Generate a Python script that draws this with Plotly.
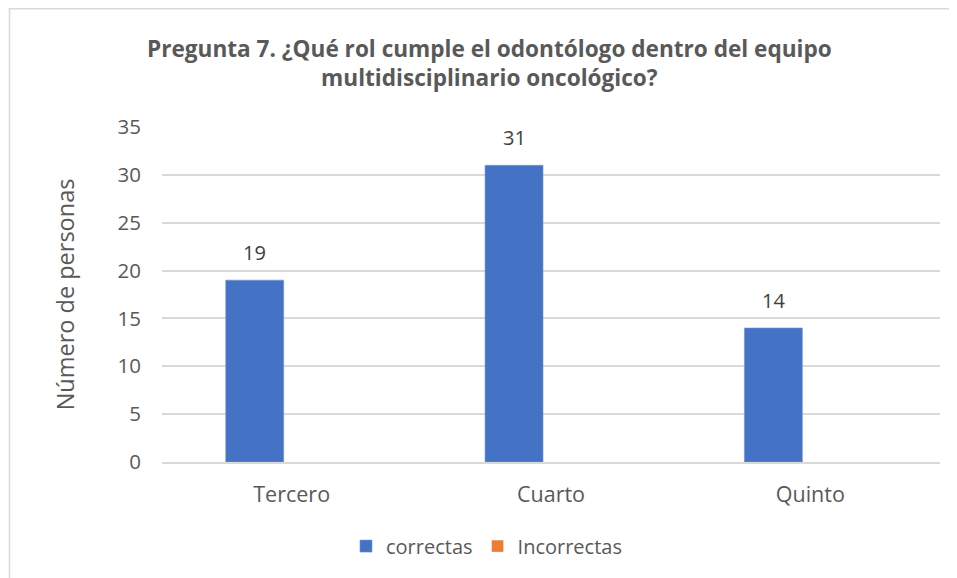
import plotly.graph_objects as go

# data
categories = ["Tercero", "Cuarto", "Quinto"]
correctas = [19, 31, 14]
incorrectas = [None, None, None]
y_ticks = [0, 5, 10, 15, 20, 25, 30, 35]

FONT = "Open Sans, sans-serif"
GREY = "#595959"

fig = go.Figure()
fig.add_trace(go.Bar(
    name="correctas", x=categories, y=correctas,
    marker=dict(color="#4472C4", line=dict(color="#6f93d6", width=0.6)),
))
fig.add_trace(go.Bar(
    name="Incorrectas", x=categories, y=incorrectas,
    marker=dict(color="#ED7D31"),
))

# data labels above the blue bars
for cat, val in zip(categories, correctas):
    fig.add_annotation(
        x=cat, y=val, text=str(val), showarrow=False,
        xshift=-37, yshift=12, yanchor="bottom",
        font=dict(family=FONT, size=20, color="#404040"),
    )

# chart frame (Excel-like border)
fig.add_shape(type="line", xref="paper", yref="paper",
              x0=-0.197, x1=1.1, y0=1.353, y1=1.353,
              line=dict(color="#d9d9d9", width=1.5))
fig.add_shape(type="line", xref="paper", yref="paper",
              x0=-0.196, x1=-0.196, y0=1.353, y1=-0.5,
              line=dict(color="#d9d9d9", width=1.5))

fig.update_layout(
    width=957, height=578,
    margin=dict(l=154, r=25, t=119, b=124),
    paper_bgcolor="white", plot_bgcolor="white",
    barmode="group", bargap=0.43, bargroupgap=0.216,
    title=dict(
        text="<b>Pregunta 7. ¿Qué rol cumple el odontólogo dentro del equipo<br>multidisciplinario oncológico?</b>",
        x=0.503, xanchor="center", y=0.916, yanchor="middle",
        font=dict(family=FONT, size=22.6, color=GREY),
    ),
    xaxis=dict(
        showgrid=False, showline=True, linecolor="#d9d9d9", linewidth=1.5,
        ticks="", ticklabelstandoff=12,
        tickfont=dict(family=FONT, size=21.5, color=GREY),
    ),
    yaxis=dict(
        range=[0, 35], tickvals=y_ticks, showgrid=True, gridcolor="#d9d9d9",
        gridwidth=1.5, zeroline=False, showline=False, ticks="", ticklen=0,
        ticklabelstandoff=20,
        tickfont=dict(family=FONT, size=20.5, color=GREY),
        title=dict(text="Número de personas", standoff=36,
                   font=dict(family=FONT, size=23.5, color=GREY)),
    ),
    legend=dict(
        orientation="h", xref="container", yref="container",
        x=0.50, xanchor="center", y=0.069, yanchor="middle",
        font=dict(family=FONT, size=20, color=GREY),
        itemwidth=30, traceorder="normal",
    ),
    showlegend=True,
)

fig.write_html("out.html")
